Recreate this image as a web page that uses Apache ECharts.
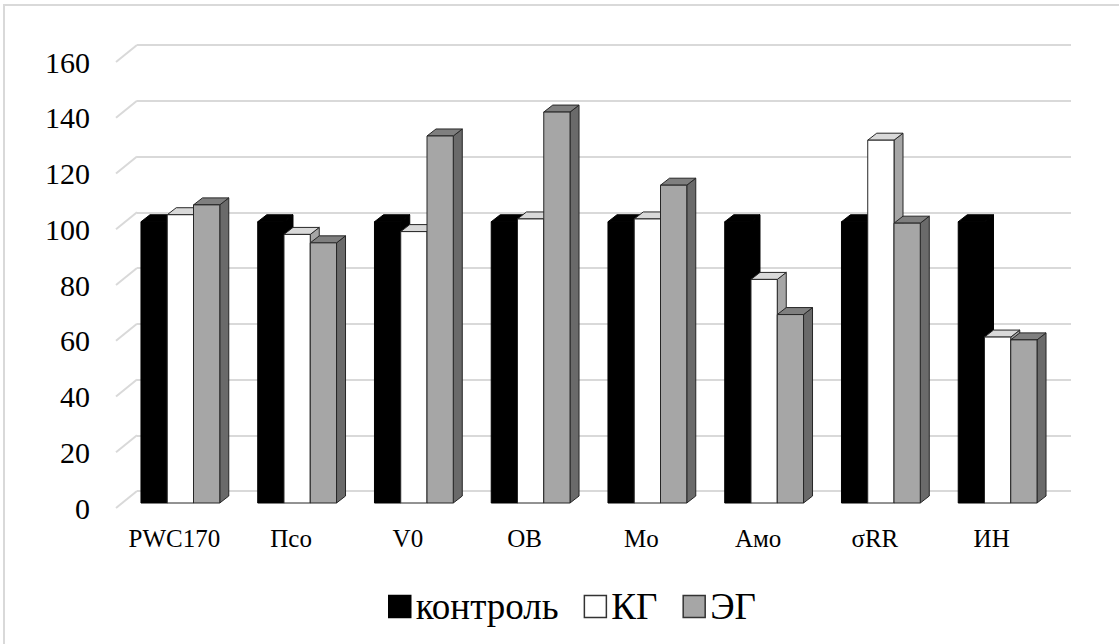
<!DOCTYPE html>
<html>
<head>
<meta charset="utf-8">
<script src="https://cdn.jsdelivr.net/npm/echarts@6/dist/echarts.min.js"></script>
<style>
  html, body { margin: 0; padding: 0; background: #fff; }
  #chart { width: 1119px; height: 644px; }
</style>
</head>
<body>
<div id="chart"></div>
<script>
// Indicator names along the category axis
const categories = ['PWC170', 'Псо', 'V0', 'OB', 'Mo', 'Амо', 'σRR', 'ИН'];
// Series values (% of control)
const control = [100, 100, 100, 100, 100, 100, 100, 100];
const kg = [102.5, 95.5, 96.5, 101, 101, 79.5, 129, 59];
const eg = [106, 92.5, 130.5, 139, 113, 67, 99.5, 58];
// Value-axis ticks
const yTicks = [0, 20, 40, 60, 80, 100, 120, 140, 160];
const seriesNames = ['контроль', 'КГ', 'ЭГ'];

const FONT = '"Liberation Serif", "Times New Roman", serif';

// 3D look: depth vector of each column and of the floor
const BAR_DX = 9, BAR_DY = -7;
const FLOOR_DX = -21, FLOOR_DY = 17;

// Face colours per series: front, top, side, outline
const faces = [
  { front: '#000000', top: '#000000', side: '#000000', stroke: '#000000' },
  { front: '#ffffff', top: '#d9d9d9', side: '#a6a6a6', stroke: '#262626' },
  { front: '#a6a6a6', top: '#7f7f7f', side: '#6a6a6a', stroke: '#262626' }
];

function barRenderer(idx) {
  const f = faces[idx];
  return function (params, api) {
    const cat = api.value(0);
    const v = api.value(1);
    const top = api.coord([cat, v]);
    const base = api.coord([cat, 0]);
    const band = api.size([1, 0])[0];
    const w = band * 0.225;
    const x0 = top[0] + (idx - 1.5) * w;
    const yt = top[1], yb = base[1];
    const x1 = x0 + w;
    const common = { stroke: f.stroke, lineWidth: 1, lineJoin: 'round' };
    return {
      type: 'group',
      children: [
        {
          type: 'polygon',
          shape: { points: [[x1, yt], [x1 + BAR_DX, yt + BAR_DY], [x1 + BAR_DX, yb + BAR_DY], [x1, yb]] },
          style: Object.assign({ fill: f.side }, common)
        },
        {
          type: 'polygon',
          shape: { points: [[x0, yt], [x0 + BAR_DX, yt + BAR_DY], [x1 + BAR_DX, yt + BAR_DY], [x1, yt]] },
          style: Object.assign({ fill: f.top }, common)
        },
        {
          type: 'rect',
          shape: { x: x0, y: yt, width: w, height: yb - yt },
          style: Object.assign({ fill: f.front }, common)
        }
      ]
    };
  };
}

// Short slanted floor lines joining the tick labels to the back-wall gridlines
function connectorRenderer(params, api) {
  const p = api.coord([0, api.value(1)]);
  const x = params.coordSys.x;
  return {
    type: 'line',
    shape: { x1: x, y1: p[1], x2: x + FLOOR_DX, y2: p[1] + FLOOR_DY },
    style: { stroke: '#d9d9d9', lineWidth: 2 }
  };
}

const yMin = yTicks[0], yMax = yTicks[yTicks.length - 1], yStep = yTicks[1] - yTicks[0];

const chart = echarts.init(document.getElementById('chart'), null, { renderer: 'svg' });

const seriesData = [control, kg, eg].map(arr => arr.map((v, i) => [i, v]));

chart.setOption({
  backgroundColor: '#ffffff',
  animation: false,
  graphic: [{
    type: 'rect',
    shape: { x: 4, y: 5, width: 1200, height: 700 },
    style: { fill: 'none', stroke: '#d9d9d9', lineWidth: 2 },
    silent: true
  }],
  grid: [
    // back wall: gridlines
    { left: 137, width: 934, top: 45, height: 446 },
    // column plane
    { left: 122, width: 934, top: 53, height: 450 },
    // front edge: tick and category labels
    { left: 116, width: 934, top: 62, height: 446 }
  ],
  xAxis: [
    { gridIndex: 0, type: 'category', data: categories, show: false },
    { gridIndex: 1, type: 'category', data: categories, show: false },
    {
      gridIndex: 2, type: 'category', data: categories,
      axisLine: { show: false }, axisTick: { show: false },
      axisLabel: { interval: 0, fontFamily: FONT, fontSize: 25, color: '#000', margin: 18 }
    }
  ],
  yAxis: [
    {
      gridIndex: 0, type: 'value', min: yMin, max: yMax, interval: yStep,
      axisLabel: { show: false }, axisLine: { show: false }, axisTick: { show: false },
      splitLine: { lineStyle: { color: '#d9d9d9', width: 2 } }
    },
    { gridIndex: 1, type: 'value', min: yMin, max: yMax, interval: yStep, show: false, splitLine: { show: false } },
    {
      gridIndex: 2, type: 'value', min: yMin, max: yMax, interval: yStep,
      axisLine: { show: false }, axisTick: { show: false }, splitLine: { show: false },
      axisLabel: { fontFamily: FONT, fontSize: 30, color: '#000', margin: 26 }
    }
  ],
  legend: {
    left: 383, top: 583,
    itemWidth: 22, itemHeight: 22, itemGap: 25,
    icon: 'rect',
    textStyle: { fontFamily: FONT, fontSize: 37, color: '#000' },
    data: seriesNames.map((n, i) => ({
      name: n,
      itemStyle: { color: faces[i].front, borderColor: i === 0 ? '#000' : '#333', borderWidth: 1.5 }
    }))
  },
  series: [
    {
      type: 'custom', name: 'grid-floor', xAxisIndex: 0, yAxisIndex: 0,
      data: yTicks.map(t => [0, t]), renderItem: connectorRenderer, silent: true, z: 1
    }
  ].concat(seriesNames.map((n, i) => ({
    type: 'custom',
    name: n,
    xAxisIndex: 1, yAxisIndex: 1,
    data: seriesData[i],
    renderItem: barRenderer(i),
    itemStyle: { color: faces[i].front },
    z: 2 + i
  })))
});
</script>
</body>
</html>
